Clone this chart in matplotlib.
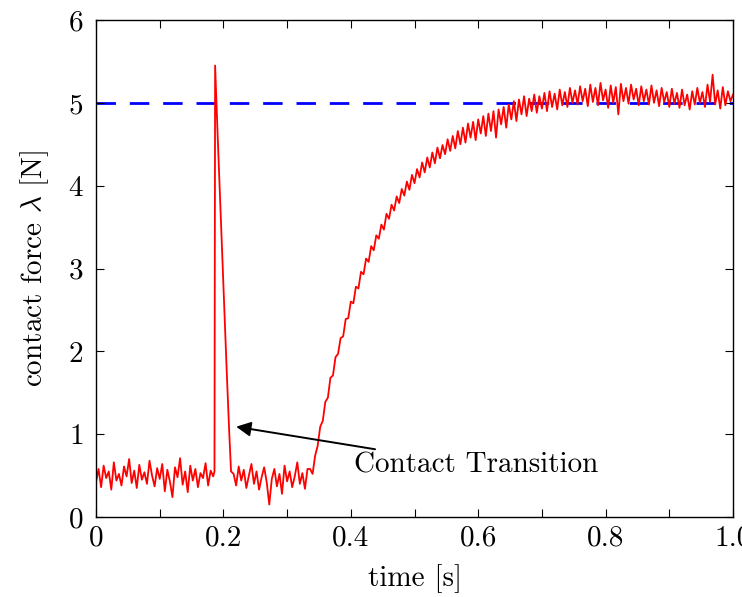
import numpy as np
import matplotlib
matplotlib.use("Agg")
import matplotlib.pyplot as plt

plt.rcParams['font.family'] = 'serif'
plt.rcParams['font.serif'] = ['cmr10', 'DejaVu Serif']
plt.rcParams['mathtext.fontset'] = 'cm'
plt.rcParams['axes.formatter.use_mathtext'] = True

# ---- data ----
dt = 0.004
# before contact (t = 0 ... 0.184)
pre_t0 = 0.0
pre_force = [0.42, 0.58, 0.36, 0.62, 0.47, 0.55, 0.33, 0.66, 0.44, 0.52, 0.38, 0.61,
             0.49, 0.70, 0.41, 0.56, 0.35, 0.63, 0.45, 0.54, 0.40, 0.68, 0.50, 0.37,
             0.59, 0.46, 0.64, 0.31, 0.57, 0.43, 0.24, 0.60, 0.48, 0.71, 0.39, 0.55,
             0.30, 0.62, 0.44, 0.58, 0.36, 0.53, 0.47, 0.65, 0.38, 0.56, 0.49]
# impact spike
spike_t = [0.186, 0.187, 0.191, 0.195, 0.200, 0.205, 0.209, 0.212]
spike_force = [0.55, 5.45, 4.60, 3.80, 2.80, 1.80, 1.05, 0.55]
# after impact, before force ramp
mid_t0 = 0.216
mid_force = [0.52, 0.38, 0.61, 0.44, 0.57, 0.35, 0.50, 0.64, 0.40, 0.55, 0.33, 0.48,
             0.60, 0.42, 0.15, 0.46, 0.58, 0.37, 0.52, 0.28, 0.62, 0.43, 0.55, 0.36,
             0.49, 0.66, 0.40, 0.53, 0.34, 0.58]
# ramp and steady state (t = 0.336 ... 1.0)
ramp_t0 = 0.336
ramp_force = [0.58, 0.52, 0.74, 0.86, 1.09, 1.16, 1.39, 1.44, 1.68, 1.71, 1.93, 1.97,
              2.16, 2.18, 2.39, 2.40, 2.60, 2.58, 2.78, 2.76, 2.96, 2.93, 3.12, 3.08,
              3.27, 3.22, 3.40, 3.36, 3.53, 3.47, 3.66, 3.60, 3.77, 3.70, 3.87, 3.79,
              3.96, 3.88, 4.05, 3.95, 4.13, 4.03, 4.20, 4.10, 4.28, 4.16, 4.34, 4.22,
              4.40, 4.27, 4.46, 4.33, 4.49, 4.38, 4.56, 4.42, 4.60, 4.45, 4.66, 4.50,
              4.70, 4.52, 4.75, 4.58, 4.77, 4.55, 4.80, 4.63, 4.84, 4.60, 4.87, 4.66,
              4.90, 4.58, 4.92, 4.74, 4.95, 4.70, 4.98, 4.80, 5.02, 4.78, 5.04, 4.86,
              5.08, 4.84, 5.05, 4.90, 5.10, 4.88, 5.08, 4.93, 5.12, 4.90, 5.14, 4.95,
              5.11, 4.92, 5.16, 4.97, 5.13, 4.95, 5.18, 5.00, 5.15, 4.98, 5.20, 5.02,
              5.17, 4.96, 5.22, 5.01, 5.18, 4.97, 5.24, 5.03, 5.16, 4.94, 5.21, 5.00,
              5.19, 4.86, 5.23, 5.02, 5.18, 4.99, 5.22, 5.04, 5.17, 4.97, 5.20, 5.02,
              5.16, 4.98, 5.21, 5.00, 5.15, 4.96, 5.18, 5.01, 5.13, 4.95, 5.17, 4.99,
              5.12, 4.94, 5.16, 4.97, 5.10, 4.92, 5.14, 4.98, 5.18, 5.00, 5.13, 4.95,
              5.22, 5.01, 5.34, 4.98, 5.15, 4.93, 5.19, 4.97, 5.14, 5.02, 5.10]
# desired force reference
ref_t = [0.0, 1.0]
ref_force = [5.0, 5.0]

xticks = [0.0, 0.2, 0.4, 0.6, 0.8, 1.0]
xticklabels = ['0', '0.2', '0.4', '0.6', '0.8', '1.0']
yticks = [0, 1, 2, 3, 4, 5, 6]
annot_text = 'Contact Transition'

# ---- assemble series ----
t_pre = pre_t0 + dt * np.arange(len(pre_force))
t_mid = mid_t0 + dt * np.arange(len(mid_force))
t_ramp = ramp_t0 + dt * np.arange(len(ramp_force))
t_all = np.concatenate([t_pre, spike_t, t_mid, t_ramp])
f_all = np.concatenate([pre_force, spike_force, mid_force, ramp_force])

fig = plt.figure(figsize=(7.42, 5.97), dpi=100)
ax = fig.add_axes([96 / 742, 80 / 597, 637 / 742, 497 / 597])

ax.plot(ref_t, ref_force, color='#0000ff', lw=2.0, dashes=(7, 5), zorder=1)
ax.plot(t_all, f_all, color='#ff0000', lw=1.3, zorder=2)

ax.set_xlim(0, 1.0)
ax.set_ylim(0, 6)
ax.set_xticks(xticks)
ax.set_xticklabels(xticklabels)
ax.set_xticks(np.arange(0.1, 1.0, 0.2), minor=True)
ax.set_yticks(yticks)
ax.tick_params(which='both', direction='in', top=True, right=True,
               length=6, width=0.8, labelsize=21)
ax.tick_params(axis='x', pad=6)
ax.tick_params(axis='y', pad=9)
for s in ax.spines.values():
    s.set_linewidth(1.0)

ax.set_xlabel('time [s]', fontsize=21, labelpad=9)
ax.set_ylabel(r'contact force $\lambda$ [N]', fontsize=21, labelpad=12)

ax.annotate(annot_text, xy=(0.22, 1.09), xytext=(0.405, 0.62),
            fontsize=21, va='center', ha='left',
            arrowprops=dict(arrowstyle='-|>', color='black', lw=1.4,
                            mutation_scale=22, shrinkA=2, shrinkB=0))

fig.savefig('out.png', dpi=100)
